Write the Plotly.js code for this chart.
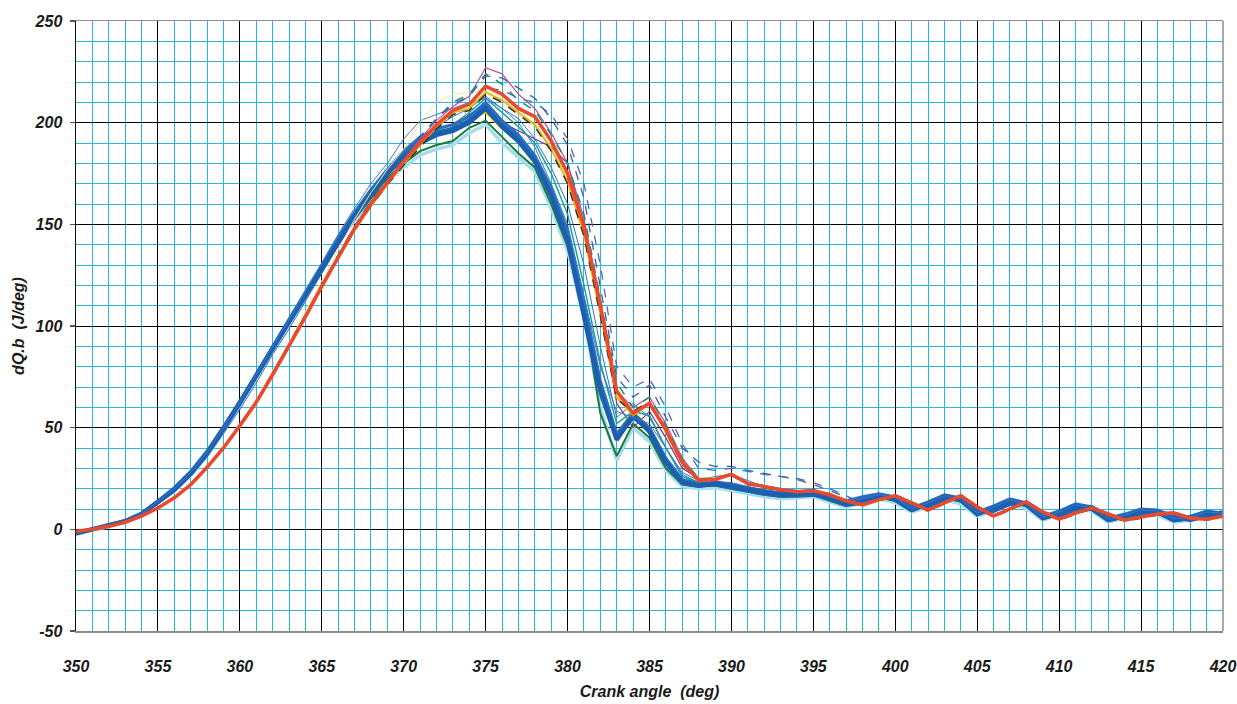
<!DOCTYPE html>
<html>
<head>
<meta charset="utf-8">
<script src="https://cdn.plot.ly/plotly-3.0.1.min.js"></script>
<style>html,body{margin:0;padding:0;background:#fff;}#chart{width:1237px;height:704px;}</style>
</head>
<body>
<div id="chart"></div>
<script>
// Crank angle (deg)
const angle = [350,351,352,353,354,355,356,357,358,359,360,361,362,363,364,365,366,367,368,369,
  370,371,372,373,374,375,376,377,378,379,380,381,382,383,384,385,386,387,388,389,
  390,391,392,393,394,395,396,397,398,399,400,401,402,403,404,405,406,407,408,409,
  410,411,412,413,414,415,416,417,418,419,420];

// Y tick labels (hyphen minus as in the original)
const yTickVals = [-50, 0, 50, 100, 150, 200, 250];
const yTickText = ['-50', '0', '50', '100', '150', '200', '250'];

// Early-combustion cycles (dQ.b, J/deg)
const cycBlueMain = [-2,0,1.5,4,7.5,13.5,19.5,27.5,37.5,49.5,62,75.5,89,102,115,129,142,154,165,175,
  183,190,194,196,200,207,198,191,181,164,142,106,68,44,56,48,33,23,21.5,22.5,
  21,19.5,18,17,17.5,18,15.5,13,14.5,16.5,14.5,9.5,12.5,16,14.5,7.5,10.5,14,12,5.5,
  8,11.5,10,4.5,6.5,9,8.5,4.5,5.5,8,7.5];
const cycBlue2 = [-1.5,0.3,1.8,4.2,8,14,20.5,28.5,38.5,50.5,63,76.5,90,103,116.5,130.5,143.5,156,167,177,
  186,193,197,199,203,210,201,194,184,168,147,112,73,47,57,50,35,24.5,22.5,23,
  22,20.5,19,18,18.5,19,16.5,14,16,17.5,16,10.5,13.5,17,15.5,8.5,11.5,15,13,6.5,
  9,12.5,11,5.5,7.5,10,9.5,5.5,6.5,9,8];
const cycBlue3 = [-2,0,1.5,4,7.5,13.5,19.5,27.5,37.5,49.5,62,75.5,89,102,115,129,142,154,165,175,
  184,191,195,197,201,208,199,192,182,165,143,108,70,45,55,49,34,23.5,22,22,
  20.5,19,17.5,16.5,16.5,17,15,12,13,15.5,15.5,11,11,14.5,15.5,9.5,9,12.5,13,7.5,
  6.5,10,11,6.5,5,7.5,9,6.5,4.5,6.5,8.5];
const cycGreen = [-2,0,1.5,3.8,7.3,13.2,19.2,27,37,49,61.5,75,88.5,101.5,114.5,128,141,152.5,163,173,
  180,186,189,191,197.5,201,193,185,178,160,139,108,57,36,52,45,30,22,21,21.5,
  20,18.5,17,16,16.5,17,14,11.5,14,16,14,9,12,15.5,13.5,7,10,13.5,11.5,5,
  7.5,11,9.5,4,6,8.5,8,4,5,7.5,7];
const cycYellow = [-2,0,1.5,4,7.5,13.5,19.5,27.5,37.5,49.5,62,75.5,89,102,115,129,142,154,165,175,
  185,191,194,197,202,205,197,190,180,163,143,110,72,47,58,50,34,24,22,22.5,
  21.5,20,18.5,17.5,17.5,18,15.5,13,14.5,16.5,15,10,12.5,16,14.5,8,10.5,14,12,6,
  8,11.5,10,5,6.5,9,8.5,5,5.5,8,7.5];
const cycLightCyan = [-2.5,-0.3,1.2,3.6,7,12.8,18.8,26.5,36.5,48.5,61,74.5,88,101,114,127.5,140.5,152,162,171.5,
  178,184,187,189,195,199,190,183,176,158,137,104,60,34,50,43,29,21,20,20.5,
  19,17.5,16,15,15.5,16,13.5,11,13,15,13,8.5,11,14.5,12.5,6.5,9,12.5,10.5,4.5,
  7,10,9,3.5,5.5,8,7,3.5,4.5,7,6.5];
const cycPurple = [-2,0,1.5,4,7.5,13.5,19.5,27.5,37.5,49.5,62,75.5,89,102,115,129,142,154.5,165.5,175.5,
  184,190,194,198,204,209,200,196,192,188,180,150,108,62,50,58,45,30,25,24,
  22,20,18.5,17.5,17,17.5,15,12.5,14,16,14,9.5,12,15.5,14,7.5,10,13.5,11.5,5.5,
  8,11,9.5,4.5,6,8.5,8,4.5,5.5,7.5,7];
const cycTeal = [-2,0,1.5,4,7.6,13.7,19.8,27.8,38,50,62.5,76,89.5,102.5,116,130,143,155.5,166.5,176.5,
  185,192,196,199,205,212,205,198,190,175,155,120,82,52,58,56,40,26,23,23,
  22,20,18.5,17.5,18,18.5,16,13.5,15,17,15,10,13,16.5,15,8,11,14.5,12.5,6,
  8.5,12,10.5,5,7,9.5,9,5,6,8.5,8];
const cycBlueThin = [-2,0,1.5,4,7.6,13.8,20,28,38,50,62.5,76,90,103,117,131,145,158,170,180,
  192,201,204,207,210,212,207,200,188,170,150,115,80,58,55,52,40,28,24,26,
  27,24,21,19,18,18.5,16,13.5,15,17,15.5,10,13,16.5,15,8,11,14.5,12.5,6,
  8.5,12,10.5,5,7,9.5,9,5,6,8.5,8];
const cycMid = [-1.5,0.2,1.6,3.8,7.2,12.5,18.5,26,35.5,47,59,72,86,98.5,112,126,139.5,152,163.5,174,
  183,192,198,203,207,213,207,202,192,178,160,130,90,55,62,55,40,27,23,23.5,
  23,21,19.5,18,17.5,18,16,13.5,14,16,15.5,11,12,15.5,15,9,9.5,13.5,12.5,7,
  7.5,11,10.5,6,6,8.5,8.5,6,5,7.5,7.5];

// Late-combustion cycles
const cycRed = [-1,0,1.5,3.5,6.5,10.5,15.5,22,30.5,40,51,62.5,76,90,104.5,119.5,134,148,160,170.5,
  181,190,199,206,209,218,214,207,203,191,175,149,110,68,57,62,49,33,24,24.5,
  27,22.5,21,19.5,18.5,19,17,14,12,14.5,16.5,13,9.5,13,16.5,11,6.5,10,13.5,8.5,
  5,8,10.5,7.5,4.5,6,7.5,8,5.5,5,6.5];
const cycNavyDash = [-1,0,1.5,3.5,6.6,10.7,15.8,22.5,31,40.5,51.5,63,77,91,105.5,120.5,135,149,161.5,172,
  183,193,202,209,213,223,222,217,212,202,189,163,119,75,65,71,55,40,33,31,
  31,29,27.5,26,24.5,22,19,16,13.5,15,17,13.5,10,13.5,17,11.5,7,10.5,14,9,
  5.5,8.5,11,8,5,6.5,8,8.5,6,5.5,7];
const cycNavyDash2 = [-1,0,1.5,3.5,6.5,10.5,15.5,22,30.5,40,51,62.5,76,90,104.5,119.5,134,148,160,170.5,
  181,190,199,206,209,217,216,212,210,204,192,170,130,80,70,74,60,42,30,29,
  30,28.5,27,26,25,23,20,16.5,13,15,16.5,13,9.5,13,16.5,11,6.5,10,13.5,8.5,
  5,8,10.5,7.5,4.5,6,7.5,8,5.5,5,6.5];
const cycTealDash = [-1,0,1.5,3.5,6.5,10.6,15.6,22.2,30.8,40.3,51.3,63,76.5,90.5,105,120,135,149,161.5,172,
  183,193,202,210,214,224,219,211,206,194,180,155,114,72,60,65,51,35,25,25,
  27.5,23,21.5,20,19,19.5,17.5,14.5,12.5,15,17,13.5,10,13.5,17,11.5,7,10.5,14,9,
  5.5,8.5,11,8,5,6.5,8,8.5,6,5.5,7];
const cycDarkDash = [-1,0,1.5,3.5,6.5,10.5,15.5,22,30.5,40,51,62.5,76,90,104.5,119.5,133.5,147,159,169.5,
  179,188,197,204,206,214,210,204,198,186,170,144,105,64,58,63,48,32,24,24.5,
  26.5,22,20.5,19,18,18.5,16.5,13.5,12,14.5,16,12.5,9,12.5,16,10.5,6,9.5,13,8,
  4.5,7.5,10,7,4,5.5,7,7.5,5,4.5,6];
const cycGold = [-1,0,1.5,3.5,6.5,10.5,15.5,22,30.5,40,51,62.5,76,90,104.5,119.5,133.5,147,159,169.5,
  180,189,198,205,207,215,211,205,199,187,171,145,106,65,56,62,48,32,25,25,
  27,22.5,21,19.5,18.5,19,17,14,12,14.5,16.5,13,9.5,13,16.5,11,6.5,10,13.5,8.5,
  5,8,10.5,7.5,4.5,6,7.5,8,5.5,5,6.5];
const cycMagenta = [-1,0,1.5,3.5,6.6,10.7,15.8,22.4,31,40.5,51.5,63,77,91,105.5,120.5,135,149,161,171.5,
  182,192,201,208,213,227,224,214,207,195,180,153,112,68,60,65,52,35,25,25,
  27.5,23,21.5,20,19,19.5,17.5,14.5,12.5,15,17,13.5,10,13.5,17,11.5,7,10.5,14,9,
  5.5,8.5,11,8,5,6.5,8,8.5,6,5.5,7];
const cycPaleYellow = [-1,0,1.5,3.5,6.6,10.8,16,22.8,31.5,41,52,64,78,92,107,122.5,137.5,152.5,165.5,177,
  187,200,210,214,215,216,212,205,200,188,173,147,108,67,57,62,49,33,25,25,
  27,22.5,21,19.5,18.5,19,17,14,12,14.5,16.5,13,9.5,13,16.5,11,6.5,10,13.5,8.5,
  5,8,10.5,7.5,4.5,6,7.5,8,5.5,5,6.5];

const seriesList = [
  {y: cycLightCyan, color: '#a6dcee', width: 3.5},
  {y: cycGreen, color: '#1b7a3a', width: 2},
  {y: cycMid, color: '#2f6fbf', width: 1},
  {y: cycPurple, color: '#8a2e86', width: 1.2},
  {y: cycTeal, color: '#16a0a0', width: 1.5},
  {y: cycYellow, color: '#f0cf10', width: 2},
  {y: cycBlue3, color: '#1d64b4', width: 4},
  {y: cycBlue2, color: '#2a70c2', width: 3},
  {y: cycBlueMain, color: '#1c5fae', width: 4.5},
  {y: cycBlueThin, color: '#3a78c8', width: 1},
  {y: cycPaleYellow, color: '#f2eaa0', width: 1},
  {y: cycGold, color: '#e8b818', width: 2},
  {y: cycMagenta, color: '#c0509e', width: 1.2},
  {y: cycDarkDash, color: '#3a3320', width: 1.5, dash: 'dash'},
  {y: cycTealDash, color: '#1c8f7c', width: 1.5, dash: 'dash'},
  {y: cycNavyDash, color: '#3b5ba8', width: 1.3, dash: 'dash'},
  {y: cycNavyDash2, color: '#4a6ab8', width: 1.3, dash: 'dash'},
  {y: cycRed, color: '#ea4a2b', width: 3.5}
];

const traces = seriesList.map(s => ({
  x: angle, y: s.y, type: 'scatter', mode: 'lines',
  line: {color: s.color, width: s.width, dash: s.dash || 'solid'},
  hoverinfo: 'skip', showlegend: false
}));

const tickFont = {family: 'Liberation Sans, Arial, sans-serif', size: 16, color: '#1a1a1a', weight: 'bold', style: 'italic'};
const titleFont = {family: 'Liberation Sans, Arial, sans-serif', size: 16, color: '#1a1a1a', weight: 'bold', style: 'italic'};

const layout = {
  width: 1237, height: 704,
  margin: {l: 76, r: 14, t: 21, b: 73},
  paper_bgcolor: '#ffffff', plot_bgcolor: '#ffffff',
  showlegend: false,
  xaxis: {
    range: [350, 420], dtick: 5, tick0: 350,
    showgrid: true, gridcolor: '#000000', gridwidth: 1,
    minor: {dtick: 1, showgrid: true, gridcolor: '#29b6da', gridwidth: 1, ticks: ''},
    zeroline: false,
    showline: true, mirror: true, linecolor: '#8c8c8c', linewidth: 1.5,
    ticks: '', ticklabelstandoff: 20,
    tickfont: tickFont,
    title: {text: 'Crank angle\u00a0\u00a0(deg)', font: titleFont, standoff: 12}
  },
  yaxis: {
    range: [-50, 250], tickmode: 'array', tickvals: yTickVals, ticktext: yTickText,
    showgrid: true, gridcolor: '#000000', gridwidth: 1,
    minor: {dtick: 10, tick0: 0, showgrid: true, gridcolor: '#29b6da', gridwidth: 1, ticks: ''},
    zeroline: true, zerolinecolor: '#000000', zerolinewidth: 1,
    showline: true, linecolor: '#111111', linewidth: 1.5,
    ticks: 'outside', ticklen: 5, tickcolor: '#555555', tickwidth: 1.5,
    ticklabelstandoff: 4,
    tickfont: tickFont,
    title: {text: 'dQ.b\u00a0\u00a0(J/deg)', font: titleFont, standoff: 6}
  },
  shapes: [
    {type: 'line', xref: 'paper', yref: 'paper', x0: 1, x1: 1, y0: 0, y1: 1, line: {color: '#8c8c8c', width: 1.5}, layer: 'above'}
  ]
};

Plotly.newPlot('chart', traces, layout, {displayModeBar: false, staticPlot: true});
</script>
</body>
</html>
